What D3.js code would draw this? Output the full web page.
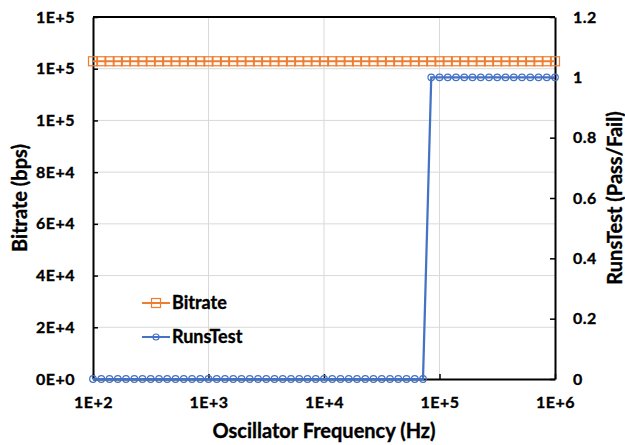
<!DOCTYPE html>
<html>
<head>
<meta charset="utf-8">
<script src="https://cdn.jsdelivr.net/npm/d3@7"></script>
<style>
  body { margin: 0; background: #fff; }
  svg { font-family: Lato, "Open Sans", sans-serif; font-weight: bold; }
  svg text { stroke: #000; stroke-width: 0.35px; paint-order: stroke; }
</style>
</head>
<body>
<div id="chart"></div>
<script>
// oscillator frequencies (Hz), 14 steps per decade
const FREQ = [
  100, 118, 139, 164, 193, 228, 268, 316, 373, 439, 518, 611, 720, 848,
  1000, 1179, 1389, 1638, 1931, 2276, 2683, 3162, 3728, 4394, 5179, 6105, 7197, 8483,
  10000, 11788, 13895, 16379, 19307, 22758, 26827, 31623, 37276, 43940, 51795, 61054, 71969, 84834,
  100000, 117880, 138950, 163790, 193070, 227580, 268270, 316230, 372760, 439400, 517950, 610540, 719690, 848340,
  1000000
]
const BITRATE = [
  122880, 122880, 122880, 122880, 122880, 122880, 122880, 122880, 122880, 122880, 122880, 122880, 122880, 122880,
  122880, 122880, 122880, 122880, 122880, 122880, 122880, 122880, 122880, 122880, 122880, 122880, 122880, 122880,
  122880, 122880, 122880, 122880, 122880, 122880, 122880, 122880, 122880, 122880, 122880, 122880, 122880, 122880,
  122880, 122880, 122880, 122880, 122880, 122880, 122880, 122880, 122880, 122880, 122880, 122880, 122880, 122880,
  122880
]
const RUNSTEST = [
  0, 0, 0, 0, 0, 0, 0, 0, 0, 0, 0, 0, 0, 0,
  0, 0, 0, 0, 0, 0, 0, 0, 0, 0, 0, 0, 0, 0,
  0, 0, 0, 0, 0, 0, 0, 0, 0, 0, 0, 0, 0, 1,
  1, 1, 1, 1, 1, 1, 1, 1, 1, 1, 1, 1, 1, 1,
  1
]
const X_TICKS = [100, 1000, 10000, 100000, 1000000]
const Y_TICKS = [0, 20000, 40000, 60000, 80000, 100000, 120000, 140000]
const Y2_TICKS = [0, 0.2, 0.4, 0.6, 0.8, 1, 1.2]
const Y2_LABELS = ['0', '0.2', '0.4', '0.6', '0.8', '1', '1.2']

const ORANGE = '#ED7D31'
const BLUE = '#4472C4'

var margin = { top: 17, right: 70, bottom: 66, left: 93 }
var width = 625 - margin.left - margin.right
var height = 445 - margin.top - margin.bottom

var svg = d3.select('#chart').append('svg')
  .attr('width', 625)
  .attr('height', 445)
var container = svg.append('g')
  .attr('transform', 'translate(' + margin.left + ',' + margin.top + ')')

var xScale = d3.scaleLog().domain([100, 1000000]).range([0, width])
var yScale = d3.scaleLinear().domain([0, 140000]).range([height, 0])
var y2Scale = d3.scaleLinear().domain([0, 1.2]).range([height, 0])

var sci = d => d3.format('.0e')(d).toUpperCase()

// gridlines
container.append('g').selectAll('line')
  .data(Y_TICKS.slice(1, -1))
  .join('line')
  .attr('x1', 0).attr('x2', width)
  .attr('y1', d => yScale(d)).attr('y2', d => yScale(d))
  .attr('stroke', '#d9d9d9').attr('stroke-width', 1)
container.append('g').selectAll('line')
  .data(X_TICKS.slice(1, -1))
  .join('line')
  .attr('y1', 0).attr('y2', height)
  .attr('x1', d => xScale(d)).attr('x2', d => xScale(d))
  .attr('stroke', '#d9d9d9').attr('stroke-width', 1)

// top border
container.append('line')
  .attr('x1', 0).attr('x2', width).attr('y1', 0).attr('y2', 0)
  .attr('stroke', '#000').attr('stroke-width', 2)

function styleAxis(g) {
  g.select('.domain').attr('stroke', '#000').attr('stroke-width', 2)
  g.selectAll('.tick line').attr('stroke', '#000').attr('stroke-width', 1.5)
  g.selectAll('.tick text').attr('fill', '#000').style('font-size', '16px')
    .style('letter-spacing', '0.5px')
    .style('font-family', 'Lato').style('font-weight', 'bold')
}

container.append('g')
  .call(d3.axisLeft(yScale).tickValues(Y_TICKS).tickFormat(sci).tickSizeInner(-5).tickSizeOuter(0).tickPadding(18))
  .call(styleAxis)

container.append('g')
  .attr('transform', 'translate(' + width + ',0)')
  .call(d3.axisRight(y2Scale).tickValues(Y2_TICKS).tickFormat((d, i) => Y2_LABELS[i]).tickSizeInner(-5).tickSizeOuter(0).tickPadding(18))
  .call(styleAxis)

container.append('g')
  .attr('transform', 'translate(0,' + height + ')')
  .call(d3.axisBottom(xScale).tickValues(X_TICKS).tickFormat(sci).tickSizeInner(-5).tickSizeOuter(0).tickPadding(18))
  .call(styleAxis)

// axis titles
svg.append('text')
  .attr('x', margin.left + width / 2).attr('y', 438)
  .attr('text-anchor', 'middle').style('font-size', '20px')
  .text('Oscillator Frequency (Hz)')
svg.append('text')
  .attr('transform', 'translate(27,' + (margin.top + height / 2) + ') rotate(-90)')
  .attr('text-anchor', 'middle').style('font-size', '20px')
  .text('Bitrate (bps)')
svg.append('text')
  .attr('transform', 'translate(622,' + (margin.top + height / 2) + ') rotate(-90)')
  .attr('text-anchor', 'middle').style('font-size', '20px')
  .text('RunsTest (Pass/Fail)')

// series
var bitData = FREQ.map((f, i) => ({ f: f, v: BITRATE[i] }))
var runData = FREQ.map((f, i) => ({ f: f, v: RUNSTEST[i] }))

container.append('path')
  .datum(bitData)
  .attr('fill', 'none').attr('stroke', ORANGE).attr('stroke-width', 2)
  .attr('d', d3.line().x(d => xScale(d.f)).y(d => yScale(d.v)))
container.append('g').selectAll('rect')
  .data(bitData)
  .join('rect')
  .attr('x', d => xScale(d.f) - 4.5).attr('y', d => yScale(d.v) - 4.5)
  .attr('width', 9).attr('height', 9)
  .attr('fill', 'none').attr('stroke', ORANGE).attr('stroke-width', 1.2)

container.append('path')
  .datum(runData)
  .attr('fill', 'none').attr('stroke', BLUE).attr('stroke-width', 2.25)
  .attr('d', d3.line().x(d => xScale(d.f)).y(d => y2Scale(d.v)))
container.append('g').selectAll('circle')
  .data(runData)
  .join('circle')
  .attr('cx', d => xScale(d.f)).attr('cy', d => y2Scale(d.v))
  .attr('r', 3.3)
  .attr('fill', 'none').attr('stroke', BLUE).attr('stroke-width', 1.2)

// legend
var legend = svg.append('g')
var legendItems = [
  { name: 'Bitrate', color: ORANGE, shape: 'square', y: 303 },
  { name: 'RunsTest', color: BLUE, shape: 'circle', y: 337 }
]
legendItems.forEach(item => {
  legend.append('line')
    .attr('x1', 142).attr('x2', 170).attr('y1', item.y).attr('y2', item.y)
    .attr('stroke', item.color).attr('stroke-width', 2)
  if (item.shape === 'square') {
    legend.append('rect')
      .attr('x', 151.5).attr('y', item.y - 4.5).attr('width', 9).attr('height', 9)
      .attr('fill', 'none').attr('stroke', item.color).attr('stroke-width', 1.2)
  } else {
    legend.append('circle')
      .attr('cx', 156).attr('cy', item.y).attr('r', 3)
      .attr('fill', 'none').attr('stroke', item.color).attr('stroke-width', 1.2)
  }
  legend.append('text')
    .attr('x', 172).attr('y', item.y).attr('dy', '0.35em')
    .style('font-size', '18px')
    .text(item.name)
})
</script>
</body>
</html>
